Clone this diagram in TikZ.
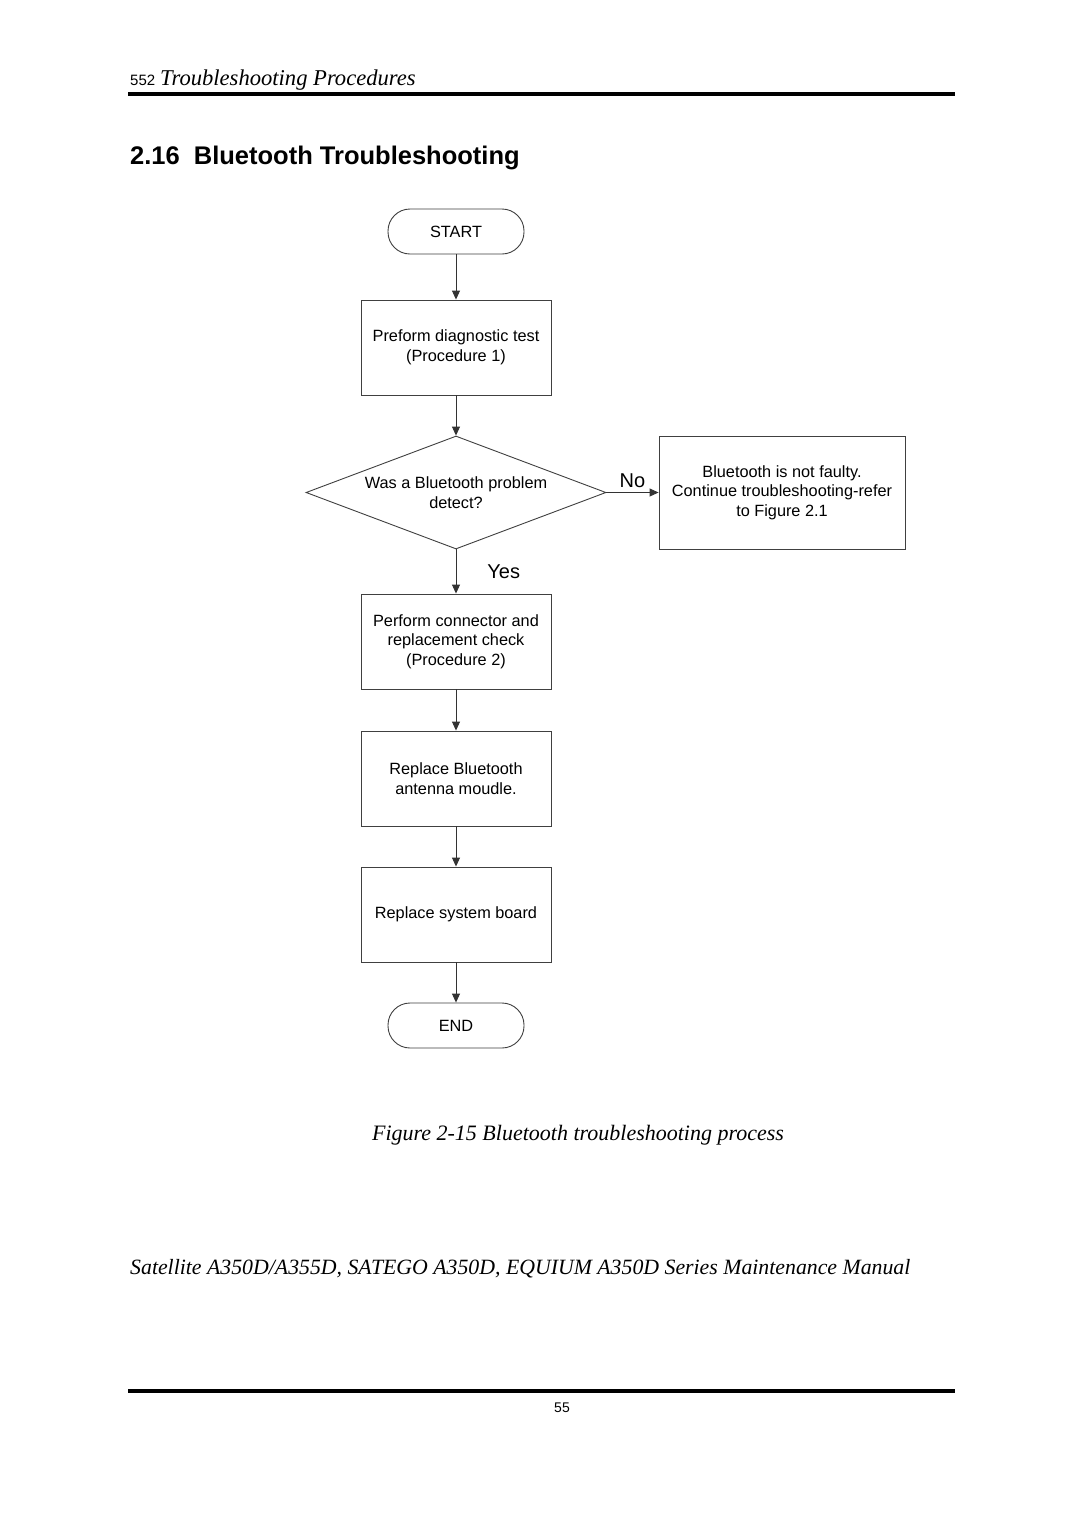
\documentclass[tikz,border=0pt]{standalone}
\usepackage{fontspec}
\setmainfont{Liberation Serif}
\setsansfont{Liberation Sans}
\usetikzlibrary{shapes.geometric,arrows.meta}
\tikzset{
  ftext/.style={font=\sffamily\fontsize{16.3}{19.5}\selectfont},
  box/.style={draw=black!75, line width=0.9pt, minimum width=190pt, minimum height=95pt, align=center, ftext, inner sep=0pt},
  term/.style={draw=black!75, line width=0.9pt, minimum width=136pt, minimum height=45pt, rounded corners=22pt, ftext},
  decide/.style={draw=black!75, line width=0.9pt, diamond, aspect=2.65, minimum width=300pt, minimum height=113pt, inner sep=0pt, align=center, ftext},
  flow/.style={draw=black!80, line width=0.9pt, -{Triangle[length=9pt,width=8pt]}},
  lbl/.style={font=\sffamily\fontsize{20}{22}\selectfont, inner sep=0pt},
  rulebar/.style={line width=4pt}
}
\begin{document}
\begin{tikzpicture}[x=1pt,y=-1pt]
\useasboundingbox[fill=white] (0,0) rectangle (1080,1527);
% header
\node[anchor=base west, inner sep=0pt] (hdr) at (130,85) {{\sffamily\fontsize{15}{18}\selectfont 552}\hspace{5pt}{\itshape\fontsize{22.6}{24}\selectfont Troubleshooting Procedures}};
\draw[rulebar] (128,94) -- (955,94);
\node[anchor=base west, inner sep=0pt, font=\sffamily\bfseries\fontsize{25.5}{30}\selectfont] (title) at (130,164) {2.16\hspace{0.55em}Bluetooth Troubleshooting};
% flowchart
\node[term] (start) at (456,231.5) {START};
\node[box] (p1) at (456,347.5) {Preform diagnostic test\\(Procedure 1)};
\node[decide] (d) at (456,492.5) {Was a Bluetooth problem\\detect?};
\node[box, minimum width=246pt, minimum height=113pt] (nf) at (782,492.5) {Bluetooth is not faulty.\\Continue troubleshooting-refer\\to Figure 2.1};
\node[box] (p2) at (456,641.5) {Perform connector and\\replacement check\\(Procedure 2)};
\node[box] (p3) at (456,778.5) {Replace Bluetooth\\antenna moudle.};
\node[box] (p4) at (456,914.5) {Replace system board};
\node[term] (end) at (456,1025.5) {END};
\draw[flow] (start) -- (p1);
\draw[flow] (p1) -- (d);
\draw[flow] (d) -- (p2) node[lbl, pos=0.5, anchor=west, xshift=31pt] (yes) {Yes};
\draw[flow] (d) -- (nf) node[lbl, pos=0.5, anchor=base, yshift=5pt] (no) {No};
\draw[flow] (p2) -- (p3);
\draw[flow] (p3) -- (p4);
\draw[flow] (p4) -- (end);
% caption and footer
\node[anchor=base, inner sep=0pt, font=\itshape\fontsize{22}{24}\selectfont] (cap) at (578,1140) {Figure 2-15 Bluetooth troubleshooting process};
\node[anchor=base west, inner sep=0pt, font=\itshape\fontsize{21.8}{24}\selectfont] (foot) at (130,1274) {Satellite A350D/A355D, SATEGO A350D, EQUIUM A350D Series Maintenance Manual};
\draw[rulebar] (128,1391) -- (955,1391);
\node[anchor=base, inner sep=0pt, font=\sffamily\fontsize{14}{16}\selectfont] (pg) at (562,1412) {55};
\end{tikzpicture}
\end{document}
